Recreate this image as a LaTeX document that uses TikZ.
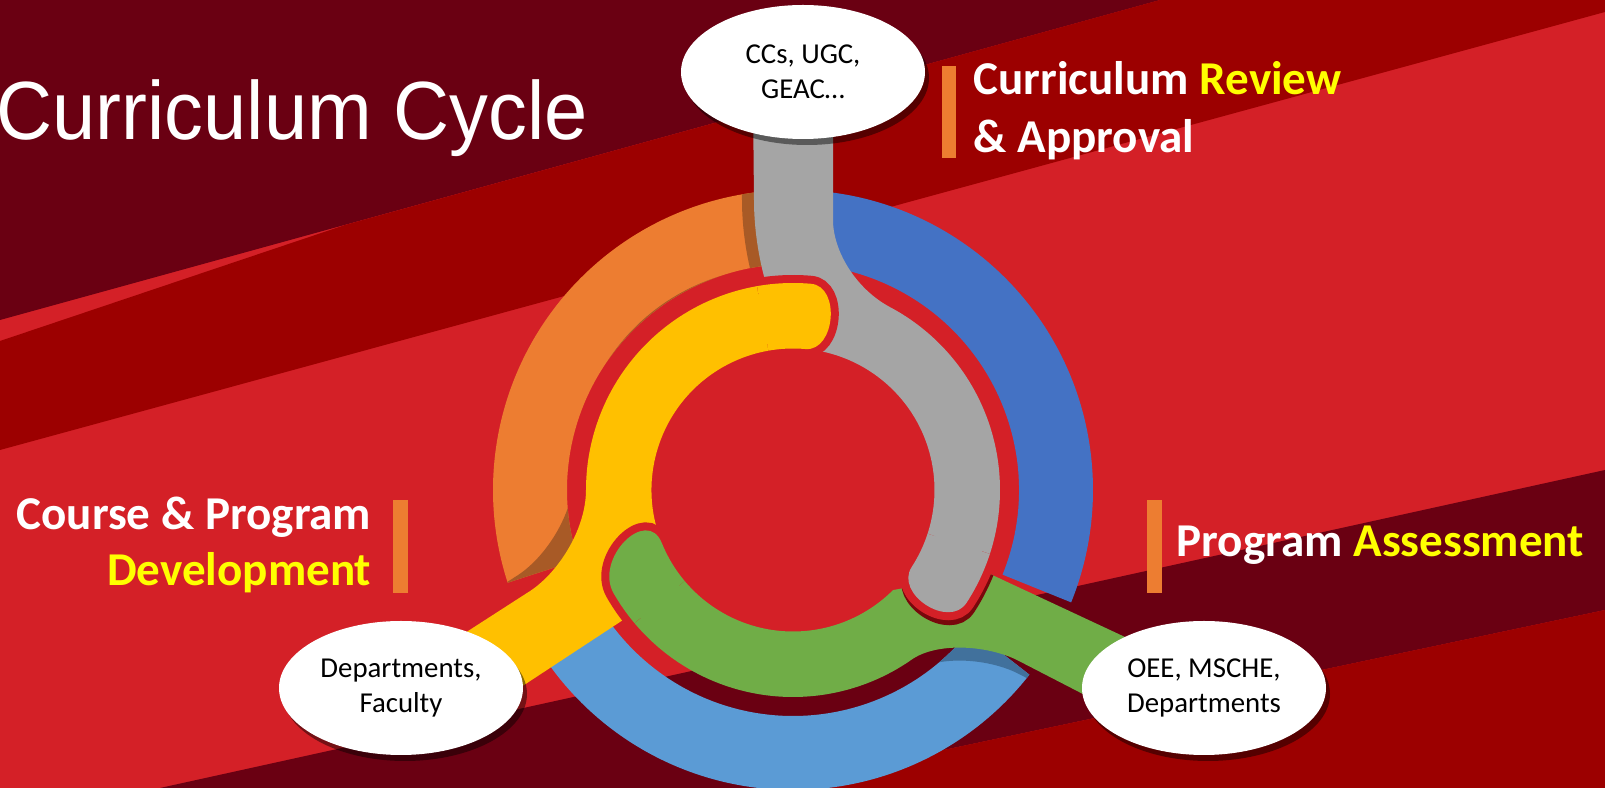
\documentclass[tikz,border=0pt]{standalone}
\usepackage{fontspec}
\setmainfont{Carlito}
\newfontfamily\titlefont{Liberation Sans}[FakeStretch=0.94]
\usetikzlibrary{shapes.geometric,shadows}

\definecolor{bgred}{RGB}{212,32,39}
\definecolor{bgmaroon}{RGB}{106,0,18}
\definecolor{bgdark}{RGB}{156,0,0}
\definecolor{ringorange}{RGB}{237,125,49}
\definecolor{ringblue}{RGB}{68,114,196}
\definecolor{ringlight}{RGB}{91,155,213}
\definecolor{armgrey}{RGB}{165,165,165}
\definecolor{armyellow}{RGB}{255,192,0}
\definecolor{armgreen}{RGB}{112,173,71}
\definecolor{shadebrown}{RGB}{168,90,38}
\definecolor{shadeblue}{RGB}{65,113,156}
\definecolor{capshade}{RGB}{120,8,12}
\definecolor{hiyellow}{RGB}{255,255,0}

% pieces of the cycle, in pixels round its centre
\newcommand{\ringpart}[2]{(#1:300) arc[start angle=#1, end angle=#2, radius=300]
  -- (#2:226) arc[start angle=#2, end angle=#1, radius=226] -- cycle}
\newcommand{\yellowarm}{(-85:207) arc[start angle=-85, end angle=-180, radius=207]
  .. controls (-207,40) and (-236,85) .. (-266,103) -- (-342,152) -- (-313,224)
  -- (-170,130) -- (155:141.5) arc[start angle=155, end angle=275, radius=141.5]
  .. controls (42.2,-138.4) and (47.9,-203.6) .. (-85:207) -- cycle}
\newcommand{\greyarm}{(-40,-390) -- (-39,-290) .. controls (-39,-250) and (-30,-215) .. (-25,-200)
  -- (-97:141.5) arc[start angle=-97, end angle=33, radius=141.5]
  .. controls (101.3,103.9) and (156.2,139.5) .. (33:207) arc[start angle=33, end angle=-62, radius=207]
  .. controls (61.9,-201.6) and (40,-240) .. (40,-270) -- (40,-390) -- cycle}
\newcommand{\greenarm}{(150:207) arc[start angle=150, end angle=55, radius=207]
  .. controls (143.3,152.4) and (192.5,154.7) .. (224,170) -- (317,218) -- (347,154)
  -- (195,83) -- (167,88) -- (45:141.5) arc[start angle=45, end angle=158, radius=141.5]
  .. controls (-146.2,15.9) and (-199.3,68.9) .. (150:207) -- cycle}
\newcommand{\yellowcap}{(-100:207) arc[start angle=-100, end angle=-85, radius=207]
  .. controls (47.9,-203.6) and (42.2,-138.4) .. (-85:141.5) arc[start angle=-85, end angle=-100, radius=141.5]}
\newcommand{\greycap}{(18:141.5) arc[start angle=18, end angle=33, radius=141.5]
  .. controls (101.3,103.9) and (156.2,139.5) .. (33:207) arc[start angle=33, end angle=18, radius=207]}
\newcommand{\greencap}{(140:207) arc[start angle=140, end angle=150, radius=207]
  .. controls (-199.3,68.9) and (-146.2,15.9) .. (158:141.5) arc[start angle=158, end angle=140, radius=141.5]}

\begin{document}
\begin{tikzpicture}[x=0.1mm, y=-0.1mm]

%
% Styles
%
\tikzstyle{bubble} = [ellipse, fill=white, minimum width=24.4mm, minimum height=13.4mm, inner sep=0pt,
  align=center, font=\fontsize{8.2}{10}\selectfont,
  drop shadow={shadow xshift=0.4mm, shadow yshift=-0.6mm, opacity=0.45, fill=black}]
\tikzstyle{heading} = [text=white, inner sep=0pt, font=\fontsize{13.4}{16}\selectfont\bfseries]
\tikzstyle{tagbar} = [fill=ringorange]
\tikzstyle{capline} = [draw=bgred, line width=1.6mm]

\useasboundingbox (0,0) rectangle (1605,788);
\clip (0,0) rectangle (1605,788);

%
% Background
%
\fill[bgred] (0,0) rectangle (1605,788);
\fill[bgmaroon] (0,0) -- (1160,0) -- (0,320) -- cycle;
\fill[bgdark] (345,225) -- (1160,0) -- (1605,0) -- (1605,12) -- (0,450) -- (0,341) -- cycle;
\fill[bgmaroon] (160,788) -- (1605,470) -- (1605,610) -- (764,788) -- cycle;
\fill[bgdark] (764,788) -- (1605,610) -- (1605,788) -- cycle;

%
% Titles
%
\node[anchor=base west, text=white, inner sep=0pt, font=\titlefont\fontsize{23.5}{28}\selectfont]
  (title) at (-4,140) {Curriculum Cycle};

\fill[tagbar] (942,66) rectangle (956,158);
\node[heading, anchor=base west] (review1) at (973,95) {Curriculum \textcolor{hiyellow}{Review}};
\node[heading, anchor=base west] (review2) at (973,153) {\& Approval};

\fill[tagbar] (393,500) rectangle (408,593);
\node[heading, anchor=base east] (develop1) at (372,530) {Course \& Program};
\node[heading, anchor=base east] (develop2) at (372,586) {\textcolor{hiyellow}{Development}};

\fill[tagbar] (1147,500) rectangle (1162,593);
\node[heading, anchor=base west] (assess) at (1176,557) {Program \textcolor{hiyellow}{Assessment}};

%
% Cycle
%
\begin{scope}[shift={(793,490)}]
  \fill[ringorange] \ringpart{-95}{-198};
  \fill[ringlight] \ringpart{38}{145};
  \fill[ringblue] \ringpart{-95}{22};

  % shadows of the arms on the ring
  \begin{scope}
    \clip \ringpart{-95}{-198};
    \fill[shadebrown, shift={(-12,0)}] \greyarm;
    \fill[shadebrown, shift={(-12,-16)}] \yellowarm;
  \end{scope}
  \begin{scope}
    \clip \ringpart{38}{145};
    \fill[shadeblue, shift={(0,13)}] \greenarm;
  \end{scope}

  \fill[armyellow] \yellowarm;
  \fill[armgrey] \greyarm;
  \fill[armgreen] \greenarm;

  % round ends
  \begin{scope}
    \clip \greenarm;
    \draw[capline, draw=capshade, shift={(1,5)}] \greycap;
  \end{scope}
  \draw[capline] \greycap;
  \fill[armgrey] \greycap -- cycle;

  \draw[capline] \yellowcap;
  \fill[armyellow] \yellowcap -- cycle;

  \draw[capline] \greencap;
  \fill[armgreen] \greencap -- cycle;
\end{scope}

%
% Actors
%
\node[bubble] (reviewers) at (803,72) {CCs, UGC,\\GEAC…};
\node[bubble] (developers) at (401,688) {Departments,\\Faculty};
\node[bubble] (assessors) at (1204,688) {OEE, MSCHE,\\Departments};

\end{tikzpicture}
\end{document}
